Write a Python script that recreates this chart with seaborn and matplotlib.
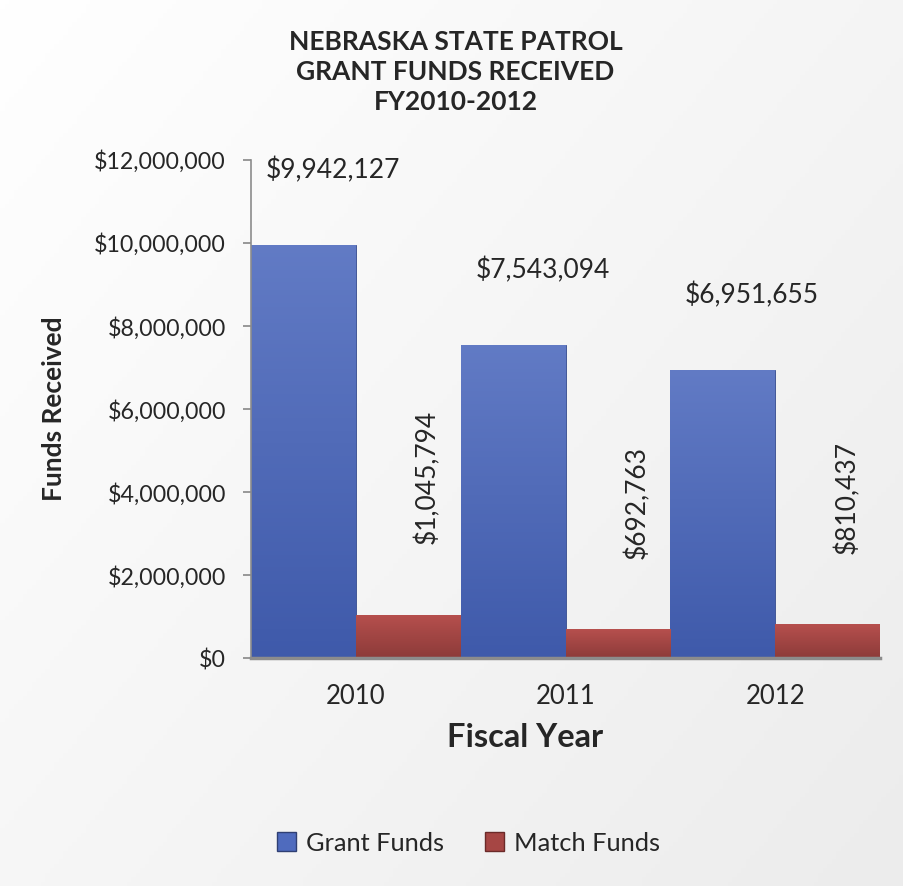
import numpy as np
import pandas as pd
import matplotlib.pyplot as plt
import matplotlib.ticker as mticker
from matplotlib.colors import LinearSegmentedColormap, to_rgb
from matplotlib.patches import Patch
import colorsys
import seaborn as sns

# ── Data ───────────────────────────────────────────────────
years = ["2010", "2011", "2012"]
grant_funds = [9942127, 7543094, 6951655]
match_funds = [1045794, 692763, 810437]
series_names = ["Grant Funds", "Match Funds"]

df = pd.DataFrame({
    "year": years * 2,
    "type": [series_names[0]] * 3 + [series_names[1]] * 3,
    "value": grant_funds + match_funds,
})

# ── Style ──────────────────────────────────────────────────
sns.set_theme(style="white")
plt.rcParams["font.family"] = ["Lato", "DejaVu Sans"]

blue = "#4F6BBE"
red = "#A64644"


def shade(col, d):
    h, l, s = colorsys.rgb_to_hls(*to_rgb(col))
    return colorsys.hls_to_rgb(h, min(1, max(0, l + d)), s)


fig = plt.figure(figsize=(9.04, 8.86), dpi=100)

# background gradient (white top-left -> light grey bottom-right)
bg = fig.add_axes([0, 0, 1, 1], zorder=-10)
gx, gy = np.meshgrid(np.linspace(0, 1, 200), np.linspace(0, 1, 200))
bg.imshow(0.55 * gx + 0.45 * gy, cmap=LinearSegmentedColormap.from_list("bg", ["#FFFFFF", "#ECECEC"]),
          aspect="auto", extent=[0, 1, 0, 1], origin="upper")
bg.axis("off")

ax = fig.add_axes([0.2777, 0.2573, 0.6958, 0.5621])
ax.patch.set_alpha(0)

sns.barplot(data=df, x="year", y="value", hue="type", palette=[blue, red],
            width=1.0, gap=0, ax=ax, saturation=1, legend=False)

# gradient fill for each bar (lighter at the top)
grad = np.linspace(1, 0, 100).reshape(-1, 1)
for patch, col in zip(ax.patches, [blue] * 3 + [red] * 3):
    x0, y0 = patch.get_x(), patch.get_y()
    w, h = patch.get_width(), patch.get_height()
    cm = LinearSegmentedColormap.from_list("g", [shade(col, -0.07), shade(col, 0.05)])
    im = ax.imshow(grad, cmap=cm, extent=[x0, x0 + w, y0, y0 + h], aspect="auto", zorder=2)
    im.set_clip_path(patch)
    patch.set_edgecolor(shade(col, -0.15))
    patch.set_linewidth(0.6)

ax.set_xlim(-0.5, 2.5)
ax.set_ylim(0, 12000000)
ax.yaxis.set_major_locator(mticker.MultipleLocator(2000000))
ax.yaxis.set_major_formatter(mticker.FuncFormatter(lambda v, p: f"${v:,.0f}"))

# value labels
for i, v in enumerate(grant_funds):
    ax.text(i - 0.25 + 0.14, v + 1800000, f"${v:,}", ha="center", va="center", fontsize=19)
for i, v in enumerate(match_funds):
    ax.text(i + 0.25 + 0.09, v + 1690000, f"${v:,}", ha="center", va="bottom",
            rotation=90, fontsize=19)

for s in ["top", "right"]:
    ax.spines[s].set_visible(False)
for s in ["left", "bottom"]:
    ax.spines[s].set_color("#8C8C8C")
    ax.spines[s].set_linewidth(1.2)
ax.spines["bottom"].set_linewidth(2.5)
ax.spines["bottom"].set_zorder(5)

ax.tick_params(axis="y", left=True, length=6, color="#8C8C8C", labelsize=16.7, pad=12)
ax.tick_params(axis="x", bottom=False, labelsize=18.5, pad=13)

ax.set_xlabel("Fiscal Year", fontsize=23.5, fontweight="bold")
ax.xaxis.set_label_coords(0.436, -0.13)
ax.set_ylabel("Funds Received", fontsize=19, fontweight="bold", labelpad=20)

fig.text(0.504, 0.919, "NEBRASKA STATE PATROL\nGRANT FUNDS RECEIVED\nFY2010-2012",
         ha="center", va="center", fontsize=19, fontweight="bold", linespacing=1.3)

handles = [Patch(facecolor=blue, edgecolor="#2F3F73", label=series_names[0]),
           Patch(facecolor=red, edgecolor="#6B2A29", label=series_names[1])]
fig.legend(handles=handles, loc="center", bbox_to_anchor=(0.518, 0.0485), ncol=2,
           frameon=False, fontsize=18.3, handlelength=0.75, handleheight=0.75,
           handletextpad=0.4, columnspacing=1.6)

fig.savefig("out.png", dpi=100)
